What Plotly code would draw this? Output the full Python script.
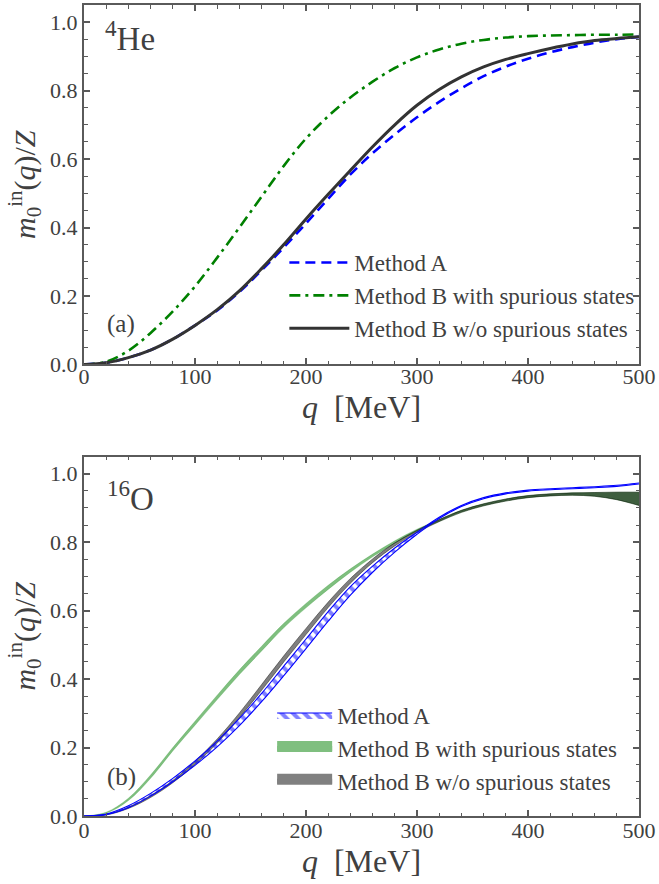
import plotly.graph_objects as go

# ---------------- data ----------------
q = [0, 20, 40, 60, 80, 100, 120, 140, 160, 180, 200, 220, 240, 260, 280, 300,
     320, 340, 360, 380, 400, 420, 440, 460, 480, 500]

# (a) 4He
he_method_a = [0, 0.005, 0.020, 0.042, 0.074, 0.114, 0.158, 0.212, 0.275, 0.342, 0.412,
               0.484, 0.555, 0.617, 0.672, 0.722, 0.767, 0.807, 0.842, 0.870, 0.893,
               0.912, 0.927, 0.940, 0.950, 0.957]
he_b_spur = [0, 0.008, 0.040, 0.092, 0.155, 0.228, 0.312, 0.400, 0.490, 0.580, 0.660,
             0.725, 0.780, 0.826, 0.866, 0.897, 0.920, 0.937, 0.948, 0.955, 0.959,
             0.961, 0.962, 0.963, 0.963, 0.964]
he_b_nospur = [0, 0.005, 0.020, 0.042, 0.074, 0.114, 0.160, 0.215, 0.280, 0.350, 0.425,
               0.497, 0.567, 0.636, 0.700, 0.757, 0.803, 0.840, 0.869, 0.891, 0.908,
               0.923, 0.936, 0.946, 0.952, 0.957]

# (b) 16O  (bands: lower / upper)
o_a_lo = [0, 0.004, 0.024, 0.058, 0.100, 0.148, 0.202, 0.264, 0.334, 0.410, 0.489,
          0.569, 0.645, 0.712, 0.771, 0.823, 0.869, 0.904, 0.927, 0.941, 0.949,
          0.953, 0.956, 0.959, 0.963, 0.970]
o_a_hi = [0, 0.006, 0.030, 0.066, 0.110, 0.161, 0.219, 0.285, 0.358, 0.438, 0.517,
          0.597, 0.670, 0.730, 0.783, 0.829, 0.873, 0.907, 0.930, 0.944, 0.952,
          0.956, 0.959, 0.962, 0.966, 0.973]
o_bs_lo = [0, 0.008, 0.045, 0.110, 0.190, 0.265, 0.340, 0.413, 0.482, 0.550, 0.608,
           0.662, 0.712, 0.757, 0.797, 0.832, 0.860, 0.887, 0.906, 0.920, 0.930,
           0.935, 0.937, 0.934, 0.924, 0.907]
o_bs_hi = [0, 0.011, 0.052, 0.120, 0.200, 0.277, 0.353, 0.427, 0.496, 0.563, 0.621,
           0.674, 0.722, 0.765, 0.804, 0.838, 0.866, 0.893, 0.912, 0.926, 0.936,
           0.941, 0.944, 0.945, 0.946, 0.946]
o_bn_lo = [0, 0.003, 0.022, 0.054, 0.097, 0.150, 0.213, 0.287, 0.367, 0.450, 0.530,
           0.609, 0.680, 0.740, 0.789, 0.828, 0.860, 0.887, 0.906, 0.920, 0.930,
           0.935, 0.937, 0.934, 0.924, 0.907]
o_bn_hi = [0, 0.005, 0.026, 0.060, 0.104, 0.160, 0.225, 0.301, 0.384, 0.468, 0.548,
           0.625, 0.694, 0.751, 0.798, 0.835, 0.866, 0.893, 0.912, 0.926, 0.936,
           0.941, 0.944, 0.945, 0.946, 0.946]

labels = ["Method A", "Method B with spurious states", "Method B w/o spurious states"]
x_ticks = [0, 100, 200, 300, 400, 500]
y_ticks = [0.0, 0.2, 0.4, 0.6, 0.8, 1.0]

# ---------------- style ----------------
FONT = "Liberation Serif, Times New Roman, serif"
TXT = "#404040"
AX = "#5a5a5a"
BLUE = "#0000ff"
GREEN = "#008000"
BLACK = "#333333"

fig = go.Figure()

# top panel lines
fig.add_trace(go.Scatter(x=q, y=he_method_a, mode="lines", name=labels[0],
                         line=dict(color=BLUE, width=2.6, dash="10px,6px", shape="spline"),
                         xaxis="x", yaxis="y", legend="legend", legendgroup="a1", legendrank=1))
fig.add_trace(go.Scatter(x=q, y=he_b_spur, mode="lines", name=labels[1],
                         line=dict(color=GREEN, width=2.6, dash="11px,5px,3px,5px", shape="spline"),
                         xaxis="x", yaxis="y", legend="legend", legendgroup="a2", legendrank=2))
fig.add_trace(go.Scatter(x=q, y=he_b_nospur, mode="lines", name=labels[2],
                         line=dict(color=BLACK, width=3, shape="spline"),
                         xaxis="x", yaxis="y", legend="legend", legendgroup="a3", legendrank=3))


def band(lo, hi, fillcolor, linecolor, lw, pattern=None):
    kw = {}
    if pattern is not None:
        kw["fillpattern"] = pattern
    t_lo = go.Scatter(x=q, y=lo, mode="lines", showlegend=False, hoverinfo="skip",
                      line=dict(color=linecolor, width=lw, shape="spline"),
                      xaxis="x2", yaxis="y2")
    t_hi = go.Scatter(x=q, y=hi, mode="lines", showlegend=False, fill="tonexty",
                      fillcolor=fillcolor, line=dict(color=linecolor, width=lw, shape="spline"),
                      xaxis="x2", yaxis="y2", **kw)
    return [t_lo, t_hi]


hatch = dict(shape="\\", fgcolor=BLUE, bgcolor="rgba(255,255,255,0)", size=8, solidity=0.5)

for t in band(o_bs_lo, o_bs_hi, "rgba(0,128,0,0.5)", "rgba(0,128,0,0.4)", 0.5):
    fig.add_trace(t)
for t in band(o_bn_lo, o_bn_hi, "rgba(0,0,0,0.5)", "rgba(0,0,0,0.6)", 0.7):
    fig.add_trace(t)
for t in band(o_a_lo, o_a_hi, "rgba(255,255,255,0)", BLUE, 1.1, pattern=hatch):
    fig.add_trace(t)

# legend entries for the bands
fig.add_trace(go.Scatter(x=[None], y=[None], mode="lines", name=labels[0], fill="toself",
                         fillcolor="rgba(255,255,255,0)", fillpattern=hatch,
                         line=dict(color=BLUE, width=1.2), xaxis="x2", yaxis="y2",
                         legend="legend2", legendgroup="b1", legendrank=1))
fig.add_trace(go.Scatter(x=[None], y=[None], mode="lines", name=labels[1], fill="toself",
                         fillcolor="#7fbf7f", line=dict(color="#7fbf7f", width=10),
                         xaxis="x2", yaxis="y2", legend="legend2", legendgroup="b2", legendrank=2))
fig.add_trace(go.Scatter(x=[None], y=[None], mode="lines", name=labels[2], fill="toself",
                         fillcolor="#808080", line=dict(color="#808080", width=10),
                         xaxis="x2", yaxis="y2", legend="legend2", legendgroup="b3", legendrank=3))

axis_common = dict(
    showline=True, linecolor=AX, linewidth=2, mirror="ticks",
    ticks="inside", ticklen=6, tickwidth=1.5, tickcolor=AX,
    showgrid=False, zeroline=False,
    tickfont=dict(family=FONT, size=22, color=TXT),
)
xmin = dict(ticks="inside", ticklen=3.5, tickwidth=1.2, tickcolor=AX, dtick=20, showgrid=False)
ymin = dict(ticks="inside", ticklen=3.5, tickwidth=1.2, tickcolor=AX, dtick=0.05, showgrid=False)

xtitle = dict(text="<i>q</i>  [MeV]", font=dict(family=FONT, size=32, color=TXT), standoff=0)
ytitle = dict(text="<i>m</i><sub>0</sub><sup>in</sup>(<i>q</i>)/<i>Z</i>",
              font=dict(family=FONT, size=30, color=TXT), standoff=6)

fig.update_layout(
    width=659, height=884,
    margin=dict(l=84, r=18, t=3, b=68),
    paper_bgcolor="white", plot_bgcolor="white",
    font=dict(family=FONT, color=TXT),
    xaxis=dict(domain=[0, 1], range=[0, 500], tickvals=x_ticks, anchor="y",
               minor=xmin, title=xtitle, ticklabelstandoff=-9, **axis_common),
    yaxis=dict(domain=[0.5568, 1], range=[0, 1.05], tickvals=y_ticks, tickformat=".1f",
               anchor="x", minor=ymin, title=ytitle, **axis_common),
    xaxis2=dict(domain=[0, 1], range=[0, 500], tickvals=x_ticks, anchor="y2",
                minor=xmin, title=xtitle, ticklabelstandoff=-6, **axis_common),
    yaxis2=dict(domain=[0, 0.4432], range=[0, 1.05], tickvals=y_ticks, tickformat=".1f",
                anchor="x2", minor=ymin, title=ytitle, **axis_common),
    legend=dict(x=0.361, y=0.709, xanchor="left", yanchor="top",
                font=dict(family=FONT, size=23, color=TXT), bgcolor="rgba(0,0,0,0)",
                tracegroupgap=3, itemwidth=60, traceorder="normal"),
    legend2=dict(x=0.339, y=0.151, xanchor="left", yanchor="top",
                 font=dict(family=FONT, size=23, color=TXT), bgcolor="rgba(0,0,0,0)",
                 tracegroupgap=4, itemwidth=55, traceorder="normal"),
    showlegend=True,
    annotations=[
        dict(x=17, y=0.96, xref="x", yref="y", text="<sup>4</sup>He", showarrow=False,
             xanchor="left", yanchor="middle", font=dict(family=FONT, size=33, color=TXT)),
        dict(x=19, y=0.117, xref="x", yref="y", text="(a)", showarrow=False,
             xanchor="left", yanchor="middle", font=dict(family=FONT, size=25, color=TXT)),
        dict(x=19, y=0.935, xref="x2", yref="y2", text="<sup>16</sup>O", showarrow=False,
             xanchor="left", yanchor="middle", font=dict(family=FONT, size=33, color=TXT)),
        dict(x=19, y=0.114, xref="x2", yref="y2", text="(b)", showarrow=False,
             xanchor="left", yanchor="middle", font=dict(family=FONT, size=25, color=TXT)),
    ],
)

fig.write_html("out.html", config={"displayModeBar": False},
               post_script="document.body.style.margin='0';document.body.style.overflow='hidden';")
